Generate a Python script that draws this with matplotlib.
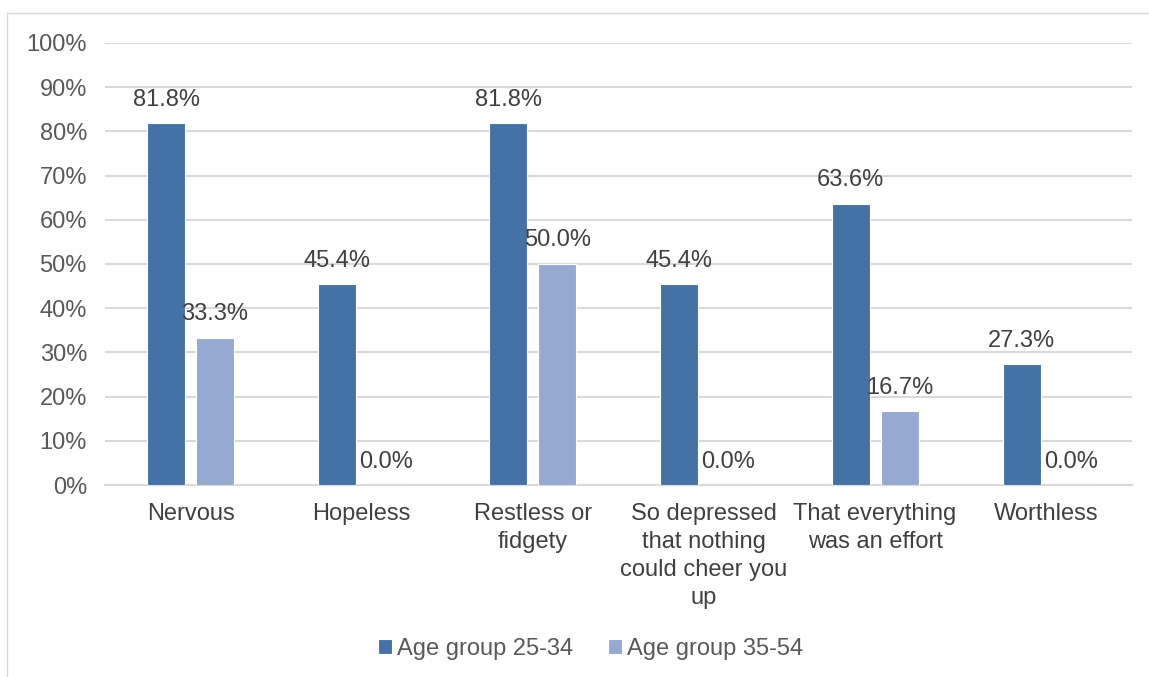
import numpy as np
import matplotlib.pyplot as plt
from matplotlib.lines import Line2D
from matplotlib.ticker import PercentFormatter

plt.rcParams['font.family'] = ['Liberation Sans', 'DejaVu Sans']

# Data
categories = ["Nervous", "Hopeless", "Restless or\nfidgety",
              "So depressed\nthat nothing\ncould cheer you\nup",
              "That everything\nwas an effort", "Worthless"]
series_names = ["Age group 25-34", "Age group 35-54"]
age_25_34 = [81.8, 45.4, 81.8, 45.4, 63.6, 27.3]
age_35_54 = [33.3, 0.0, 50.0, 0.0, 16.7, 0.0]
colors = ["#4472A6", "#95A9D1"]

fig = plt.figure(figsize=(11.49, 6.77), dpi=100)
ax = fig.add_axes([0.0914, 0.2836, 0.8936, 0.6529])

x = np.arange(len(categories))
width = 0.222
offset = 0.143

for vals, off, col, name in zip([age_25_34, age_35_54], [-offset, offset], colors, series_names):
    bars = ax.bar(x + off, vals, width, color=col, edgecolor="white", linewidth=0.8,
                  label=name, zorder=3)
    for b, v in zip(bars, vals):
        ax.annotate(f"{v:.1f}%", (b.get_x() + b.get_width() / 2, v),
                    xytext=(0, 9), textcoords="offset points",
                    ha="center", va="bottom", fontsize=17, color="#404040", zorder=4)

ax.set_xlim(-0.5, len(categories) - 0.5)
ax.set_ylim(0, 100)
ax.set_yticks(np.arange(0, 101, 10))
ax.yaxis.set_major_formatter(PercentFormatter(decimals=0))
ax.set_xticks(x)
ax.set_xticklabels(categories, fontsize=17, color="#404040", va="top", linespacing=1.35)
ax.tick_params(axis="y", labelsize=17, labelcolor="#595959", length=0, pad=13)
ax.tick_params(axis="x", length=0, pad=13)
ax.grid(axis="y", color="#D9D9D9", linewidth=1.5, zorder=0)
for s in ["top", "right", "left"]:
    ax.spines[s].set_visible(False)
ax.spines["bottom"].set_color("#D9D9D9")
ax.spines["bottom"].set_linewidth(1.5)

fig.legend(loc="center", bbox_to_anchor=(0.514, 0.041), ncol=2, frameon=False,
           fontsize=17, labelcolor="#595959", handlelength=0.6, handleheight=0.6,
           handletextpad=0.2, columnspacing=1.5)

# chart border
bx, by = 7 / 1149, 1 - 13 / 677
fig.add_artist(Line2D([bx, 1], [by, by], transform=fig.transFigure, color="#D9D9D9", linewidth=1))
fig.add_artist(Line2D([bx, bx], [0, by], transform=fig.transFigure, color="#D9D9D9", linewidth=1))

fig.savefig("out.png", dpi=100)
